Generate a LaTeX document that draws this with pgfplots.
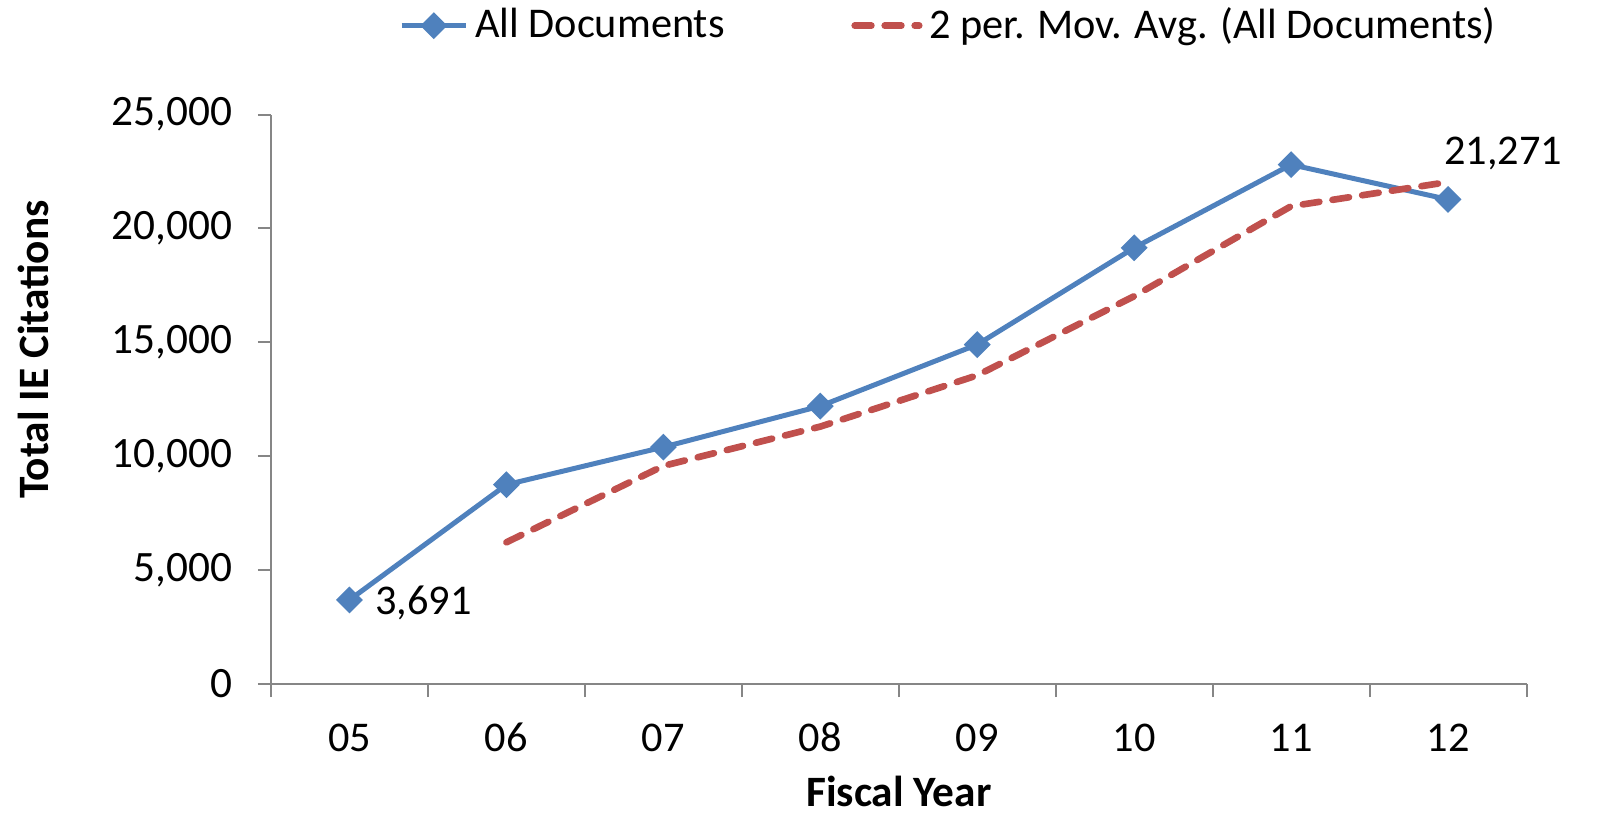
\documentclass[border=0pt]{standalone}
\usepackage{fontspec}
\setmainfont{Carlito}
\usepackage{pgfplots}
\pgfplotsset{compat=1.18}
\definecolor{exblue}{HTML}{4F81BD}
\definecolor{exred}{HTML}{C0504D}
\definecolor{exaxis}{HTML}{868686}
\begin{document}
\begin{tikzpicture}
\begin{axis}[
  scale only axis,
  width=376.65pt, height=170.85pt,
  xmin=0.5, xmax=8.5, ymin=0, ymax=25000,
  axis x line*=bottom, axis y line*=left,
  axis line style={exaxis, line width=0.6pt},
  tick align=outside,
  xtick={1,2,3,4,5,6,7,8},
  xticklabels={05,06,07,08,09,10,11,12},
  minor xtick={0.5,1.5,2.5,3.5,4.5,5.5,6.5,7.5,8.5},
  major x tick style={draw=none},
  minor x tick style={exaxis, line width=0.6pt},
  minor tick length=3.9pt,
  major tick length=3.9pt,
  ytick={0,5000,10000,15000,20000,25000},
  ytick style={exaxis, line width=0.6pt},
  scaled y ticks=false,
  yticklabel style={/pgf/number format/.cd, 1000 sep={,}, assume math mode=true, /tikz/.cd, font=\fontsize{13}{15}\selectfont, anchor=east, xshift=-4.2pt},
  xticklabel style={font=\fontsize{12.7}{15}\selectfont, anchor=center, yshift=-12.2pt},
  xlabel={\textbf{Fiscal Year}},
  xlabel style={at={(axis description cs:0.5,-0.2155)}, anchor=base, inner sep=0pt, font=\fontsize{13}{15}\selectfont},
  ylabel={\textbf{Total IE Citations}},
  ylabel style={at={(axis description cs:-0.189,0.587)}, anchor=center, rotate=0, font=\fontsize{13}{15}\selectfont},
  clip=false,
  legend columns=2,
  legend style={draw=none, fill=none, at={(axis description cs:0.5414,1.156)}, anchor=center,
    font=\fontsize{12.7}{15}\selectfont,
    /tikz/every even column/.append style={column sep=36pt}},
  legend image code/.code={\draw[mark repeat=2,mark phase=2,#1] plot coordinates {(0cm,0cm)(0.34cm,0cm)(0.68cm,0cm)};},
]
\addplot[exblue, line width=1.5pt, mark=square*, mark size=2.1pt, mark options={rotate=45, solid}]
  coordinates {(1,3691)(2,8750)(3,10400)(4,12200)(5,14900)(6,19150)(7,22800)(8,21271)};
\addlegendentry{All Documents}
\addplot[exred, line width=2pt, line cap=round, dash pattern=on 5pt off 4pt]
  coordinates {(2,6220.5)(3,9575)(4,11300)(5,13550)(6,17025)(7,20975)(8,22035.5)};
\addlegendentry{2 per. Mov. Avg. (All Documents)}
\addplot[draw=none, forget plot, nodes near coords={3,691},
  nodes near coords style={anchor=west, xshift=4.2pt, yshift=-0.9pt, font=\fontsize{12.7}{15}\selectfont, text=black}]
  coordinates {(1,3691)};
\addplot[draw=none, forget plot, nodes near coords={21,271},
  nodes near coords style={anchor=west, xshift=-4.7pt, yshift=13.9pt, font=\fontsize{12.7}{15}\selectfont, text=black}]
  coordinates {(8,21271)};
\end{axis}
\pgfresetboundingbox
\path[use as bounding box] (-81.3pt,-39.6pt) rectangle (399.6pt,205.2pt);
\end{tikzpicture}
\end{document}
